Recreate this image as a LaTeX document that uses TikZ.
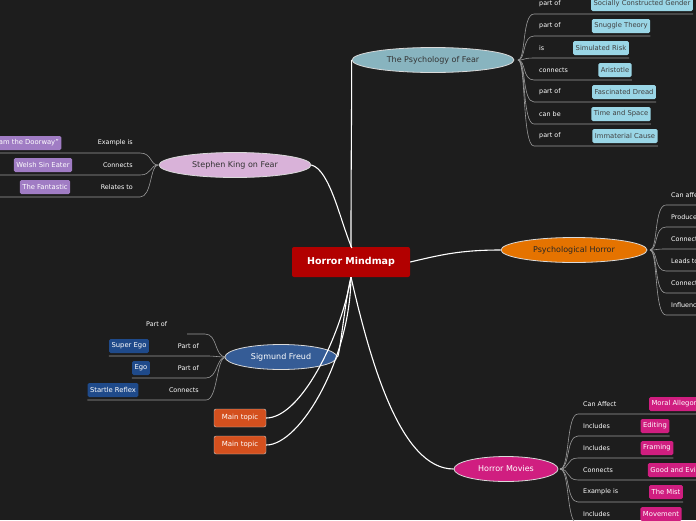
\documentclass[tikz,border=0pt]{standalone}
\usepackage{fontspec}
\setmainfont{DejaVu Sans}
\usetikzlibrary{shapes.geometric}
\definecolor{bg}{HTML}{1D1D1D}
\definecolor{lnk}{HTML}{9A9A9A}
\definecolor{cblue}{HTML}{9AD6E6}
\definecolor{cpurp}{HTML}{A07CC4}
\definecolor{cnavy}{HTML}{1F4A8A}
\definecolor{cpink}{HTML}{D01E80}
\definecolor{corg}{HTML}{D4501E}
\begin{document}
\begin{tikzpicture}[x=1pt,y=-1pt,
  lbl/.style={text=white,font=\fontsize{6.4}{7}\selectfont,inner sep=1pt},
  leaf/.style={rounded corners=1.5pt,font=\fontsize{6.8}{8}\selectfont,inner sep=2.5pt,minimum height=14pt},
  main/.style={ellipse,draw=white!85!black,line width=0.8pt,font=\fontsize{8}{9}\selectfont,minimum height=25pt,inner sep=0pt},
  trunk/.style={white,line width=1.1pt},
  twig/.style={lnk,line width=0.6pt}]
\fill[bg] (0,0) rectangle (696,520);
\clip (0,0) rectangle (696,520);
\useasboundingbox (0,0) rectangle (696,520);
% main nodes
\node[rectangle,fill=red!70!black,rounded corners=2pt,minimum width=118pt,minimum height=30pt,text=white,font=\bfseries\fontsize{9.5}{11}\selectfont] (c) at (351,262) {Horror Mindmap};
\node[main,fill=cblue!80!black!90,text=black!80,minimum width=162pt] (pf) at (433,60) {The Psychology of Fear};
\node[main,fill=violet!30,text=black!80,minimum width=152pt] (sk) at (235,165) {Stephen King on Fear};
\node[main,fill=orange!90!black,text=black!85,minimum width=146pt] (ph) at (574,250) {Psychological Horror};
\node[main,fill=cnavy!90,text=white,minimum width=112pt] (sf) at (281,357) {Sigmund Freud};
\node[main,fill=cpink,text=white,minimum width=104pt] (hm) at (506,469) {Horror Movies};
\node[rectangle,rounded corners=2pt,draw=white!80!black,fill=corg,text=white,font=\fontsize{7}{8}\selectfont,minimum width=52pt,minimum height=18pt] (m1) at (240,418) {Main topic};
\node[rectangle,rounded corners=2pt,draw=white!80!black,fill=corg,text=white,font=\fontsize{7}{8}\selectfont,minimum width=52pt,minimum height=18pt] (m2) at (240,445) {Main topic};
% trunks
\draw[trunk] (c.north) .. controls (351,150) and (352,80) .. (pf.west);
\draw[trunk] (c.west) ++(60,-14) .. controls (340,220) and (330,170) .. (sk.east);
\draw[trunk] (c.east) .. controls (440,255) and (460,250) .. (ph.west);
\draw[trunk] (c.south) .. controls (345,300) and (340,355) .. (sf.east);
\draw[trunk] (c.south) .. controls (370,360) and (400,469) .. (hm.west);
\draw[trunk] (c.south) .. controls (340,340) and (300,418) .. (m1.east);
\draw[trunk] (c.south) .. controls (350,360) and (300,445) .. (m2.east);
% Psychology of Fear leaves
\coordinate (pfb) at (518,60);
\foreach \y/\l/\t/\cx in {4/part of/Socially Constructed Gender/642, 26/part of/Snuggle Theory/621, 48/is/Simulated Risk/601, 70/connects/Aristotle/615, 92/part of/Fascinated Dread/624, 114/can be/Time and Space/621, 136/part of/Immaterial Cause/625}{
  \node[leaf,fill=cblue,text=black!75,anchor=center] (L) at (\cx,\y) {\t};
  \node[lbl,anchor=west] (T) at (538,\y) {\l};
  \draw[twig] (pfb) .. controls (526,60) and (522,\y+10) .. (534,\y+10) -- (L.east |- 0,\y+10);
}
% Stephen King leaves
\coordinate (skb) at (158,165);
\foreach \y/\l/\t/\cx in {143/Example is/``I am the Doorway''/25, 165/Connects/Welsh Sin Eater/43, 187/Relates to/The Fantastic/45}{
  \node[leaf,fill=cpurp,text=white] (L) at (\cx,\y) {\t};
  \node[lbl,anchor=east] (T) at (134,\y) {\l};
  \draw[twig] (skb) .. controls (150,165) and (152,\y+10) .. (140,\y+10) -- (0,\y+10);
}
% Psychological Horror leaves
\coordinate (phb) at (650,250);
\foreach \y/\l in {195/Can affect, 217/Produces, 239/Connects, 261/Leads to, 283/Connects, 305/Influences}{
  \node[lbl,anchor=west] (T) at (670,\y) {\l};
  \draw[twig] (phb) .. controls (658,250) and (654,\y+10) .. (666,\y+10) -- (700,\y+10);
}
% Freud leaves
\coordinate (sfb) at (226,357);
\node[lbl,anchor=west] (f0) at (145,324) {Part of};
\draw[twig] (sfb) .. controls (214,357) and (218,334) .. (205,334) -- (187,334);
\foreach \y/\l/\t/\cx in {346/Part of/Super Ego/129, 368/Part of/Ego/141, 390/Connects/Startle Reflex/113}{
  \node[leaf,fill=cnavy,text=white] (L) at (\cx,\y) {\t};
  \node[lbl,anchor=east] (T) at (200,\y) {\l};
  \draw[twig] (sfb) .. controls (216,357) and (218,\y+10) .. (206,\y+10) -- (L.west |- 0,\y+10);
}
% Horror Movies leaves
\coordinate (hmb) at (560,469);
\foreach \y/\l/\t/\cx in {404/Can Affect/Moral Allegory/676, 426/Includes/Editing/655, 448/Includes/Framing/657, 470/Connects/Good and Evil/674, 492/Example is/The Mist/666, 514/Includes/Movement/661}{
  \node[leaf,fill=cpink,text=white] (L) at (\cx,\y) {\t};
  \node[lbl,anchor=west] (T) at (582,\y) {\l};
  \draw[twig] (hmb) .. controls (570,469) and (566,\y+10) .. (578,\y+10) -- (L.east |- 0,\y+10);
}
\end{tikzpicture}
\end{document}
